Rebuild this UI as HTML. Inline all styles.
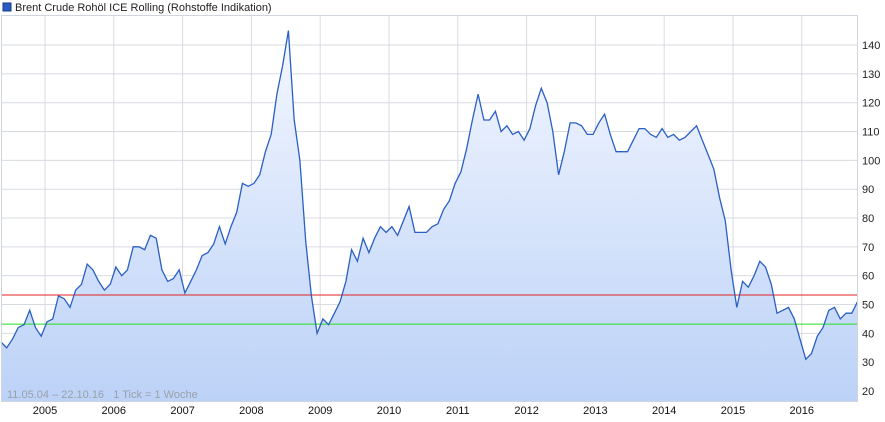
<!DOCTYPE html>
<html><head><meta charset="utf-8"><style>
body{margin:0;background:#fff;font-family:"Liberation Sans",sans-serif}
svg{display:block}
</style></head><body>
<svg id="chart" width="885" height="422" xmlns="http://www.w3.org/2000/svg">
<defs><linearGradient id="fill" x1="0" y1="0" x2="0" y2="1"><stop offset="0" stop-color="#f4f7ff"/><stop offset="1" stop-color="#bcd2f7"/></linearGradient></defs>
<rect x="3" y="3" width="8" height="8" fill="#2a5cc0" stroke="#123a8a"/>
<text x="15" y="11" font-size="11" fill="#222">Brent Crude Rohöl ICE Rolling (Rohstoffe Indikation)</text>
<g id="grid"></g>
<path id="area" fill="url(#fill)"/>
<g id="hlines"></g>
<path id="line" fill="none" stroke="#2a5fc4" stroke-width="1.3"/>
<rect x="1.5" y="15.5" width="856" height="386" fill="none" stroke="#d0d4dc"/>
<text x="7" y="398" font-size="11" fill="#9aa0a8" xml:space="preserve" style="white-space:pre">11.05.04 – 22.10.16   1 Tick = 1 Woche</text>
<g id="axes"></g>
</svg>
<script>
const years=[2005,2006,2007,2008,2009,2010,2011,2012,2013,2014,2015,2016];
const yTicks=[20,30,40,50,60,70,80,90,100,110,120,130,140];
const startYear=2004.36;
const prices=[37,35,38,42,43,48,42,39,
44,45,53,52,49,55,57,64,62,58,55,57,
63,60,62,70,70,69,74,73,62,58,59,62,
54,58,62,67,68,71,77,71,77,82,92,91,
92,95,103,109,123,133,145,114,100,72,53,40,
45,43,47,51,58,69,65,73,68,73,77,75,
77,74,79,84,75,75,75,77,78,83,86,92,
96,104,114,123,114,114,117,110,112,109,110,107,
111,119,125,120,110,95,103,113,113,112,109,109,
113,116,109,103,103,103,107,111,111,109,108,111,
108,109,107,108,110,112,107,102,97,87,79,62,
49,58,56,60,65,63,57,47,48,49,45,38,
31,33,39,42,48,49,45,47,47,51];
const refLines=[{v:53.3,c:"#e02020",n:"reference-line-high"},{v:43.2,c:"#22dd22",n:"reference-line-low"}];
const X=t=>45+(t-2005)*68.8;
const Y=v=>391-(v-20)*2.883;
const ns="http://www.w3.org/2000/svg";
function mk(tag,attrs,parent,txt){const e=document.createElementNS(ns,tag);for(const k in attrs)e.setAttribute(k,attrs[k]);if(txt!==undefined)e.textContent=txt;parent.appendChild(e);return e;}
const grid=document.getElementById('grid'),axes=document.getElementById('axes'),hl=document.getElementById('hlines');
yTicks.forEach(v=>{
 const l=mk('line',{x1:2,x2:857,y1:Y(v),y2:Y(v),stroke:'#d8dbe2'},grid);
 
 
 const t=mk('text',{x:862,y:Y(v)+4,'font-size':11,fill:'#222'},axes,String(v));
 
 
});
years.forEach(y=>{
 const l=mk('line',{x1:X(y),x2:X(y),y1:15,y2:401,stroke:'#d8dbe2'},grid);
 
 
 const t=mk('text',{x:X(y),y:414,'font-size':11,fill:'#111','text-anchor':'middle'},axes,String(y));
 
 
});
const step=(2016.81-startYear)/(prices.length-1);
let d='';
prices.forEach((p,i)=>{d+=(i?'L':'M')+X(startYear+i*step).toFixed(1)+' '+Y(p).toFixed(1);});
document.getElementById('line').setAttribute('d',d);
document.getElementById('area').setAttribute('d',d+'L'+X(2016.81).toFixed(1)+' 401L'+X(startYear).toFixed(1)+' 401Z');
refLines.forEach(r=>{
 const l=mk('line',{x1:2,x2:857,y1:Y(r.v),y2:Y(r.v),stroke:r.c,'stroke-width':1},hl);
 
 
});
</script>
</body></html>
